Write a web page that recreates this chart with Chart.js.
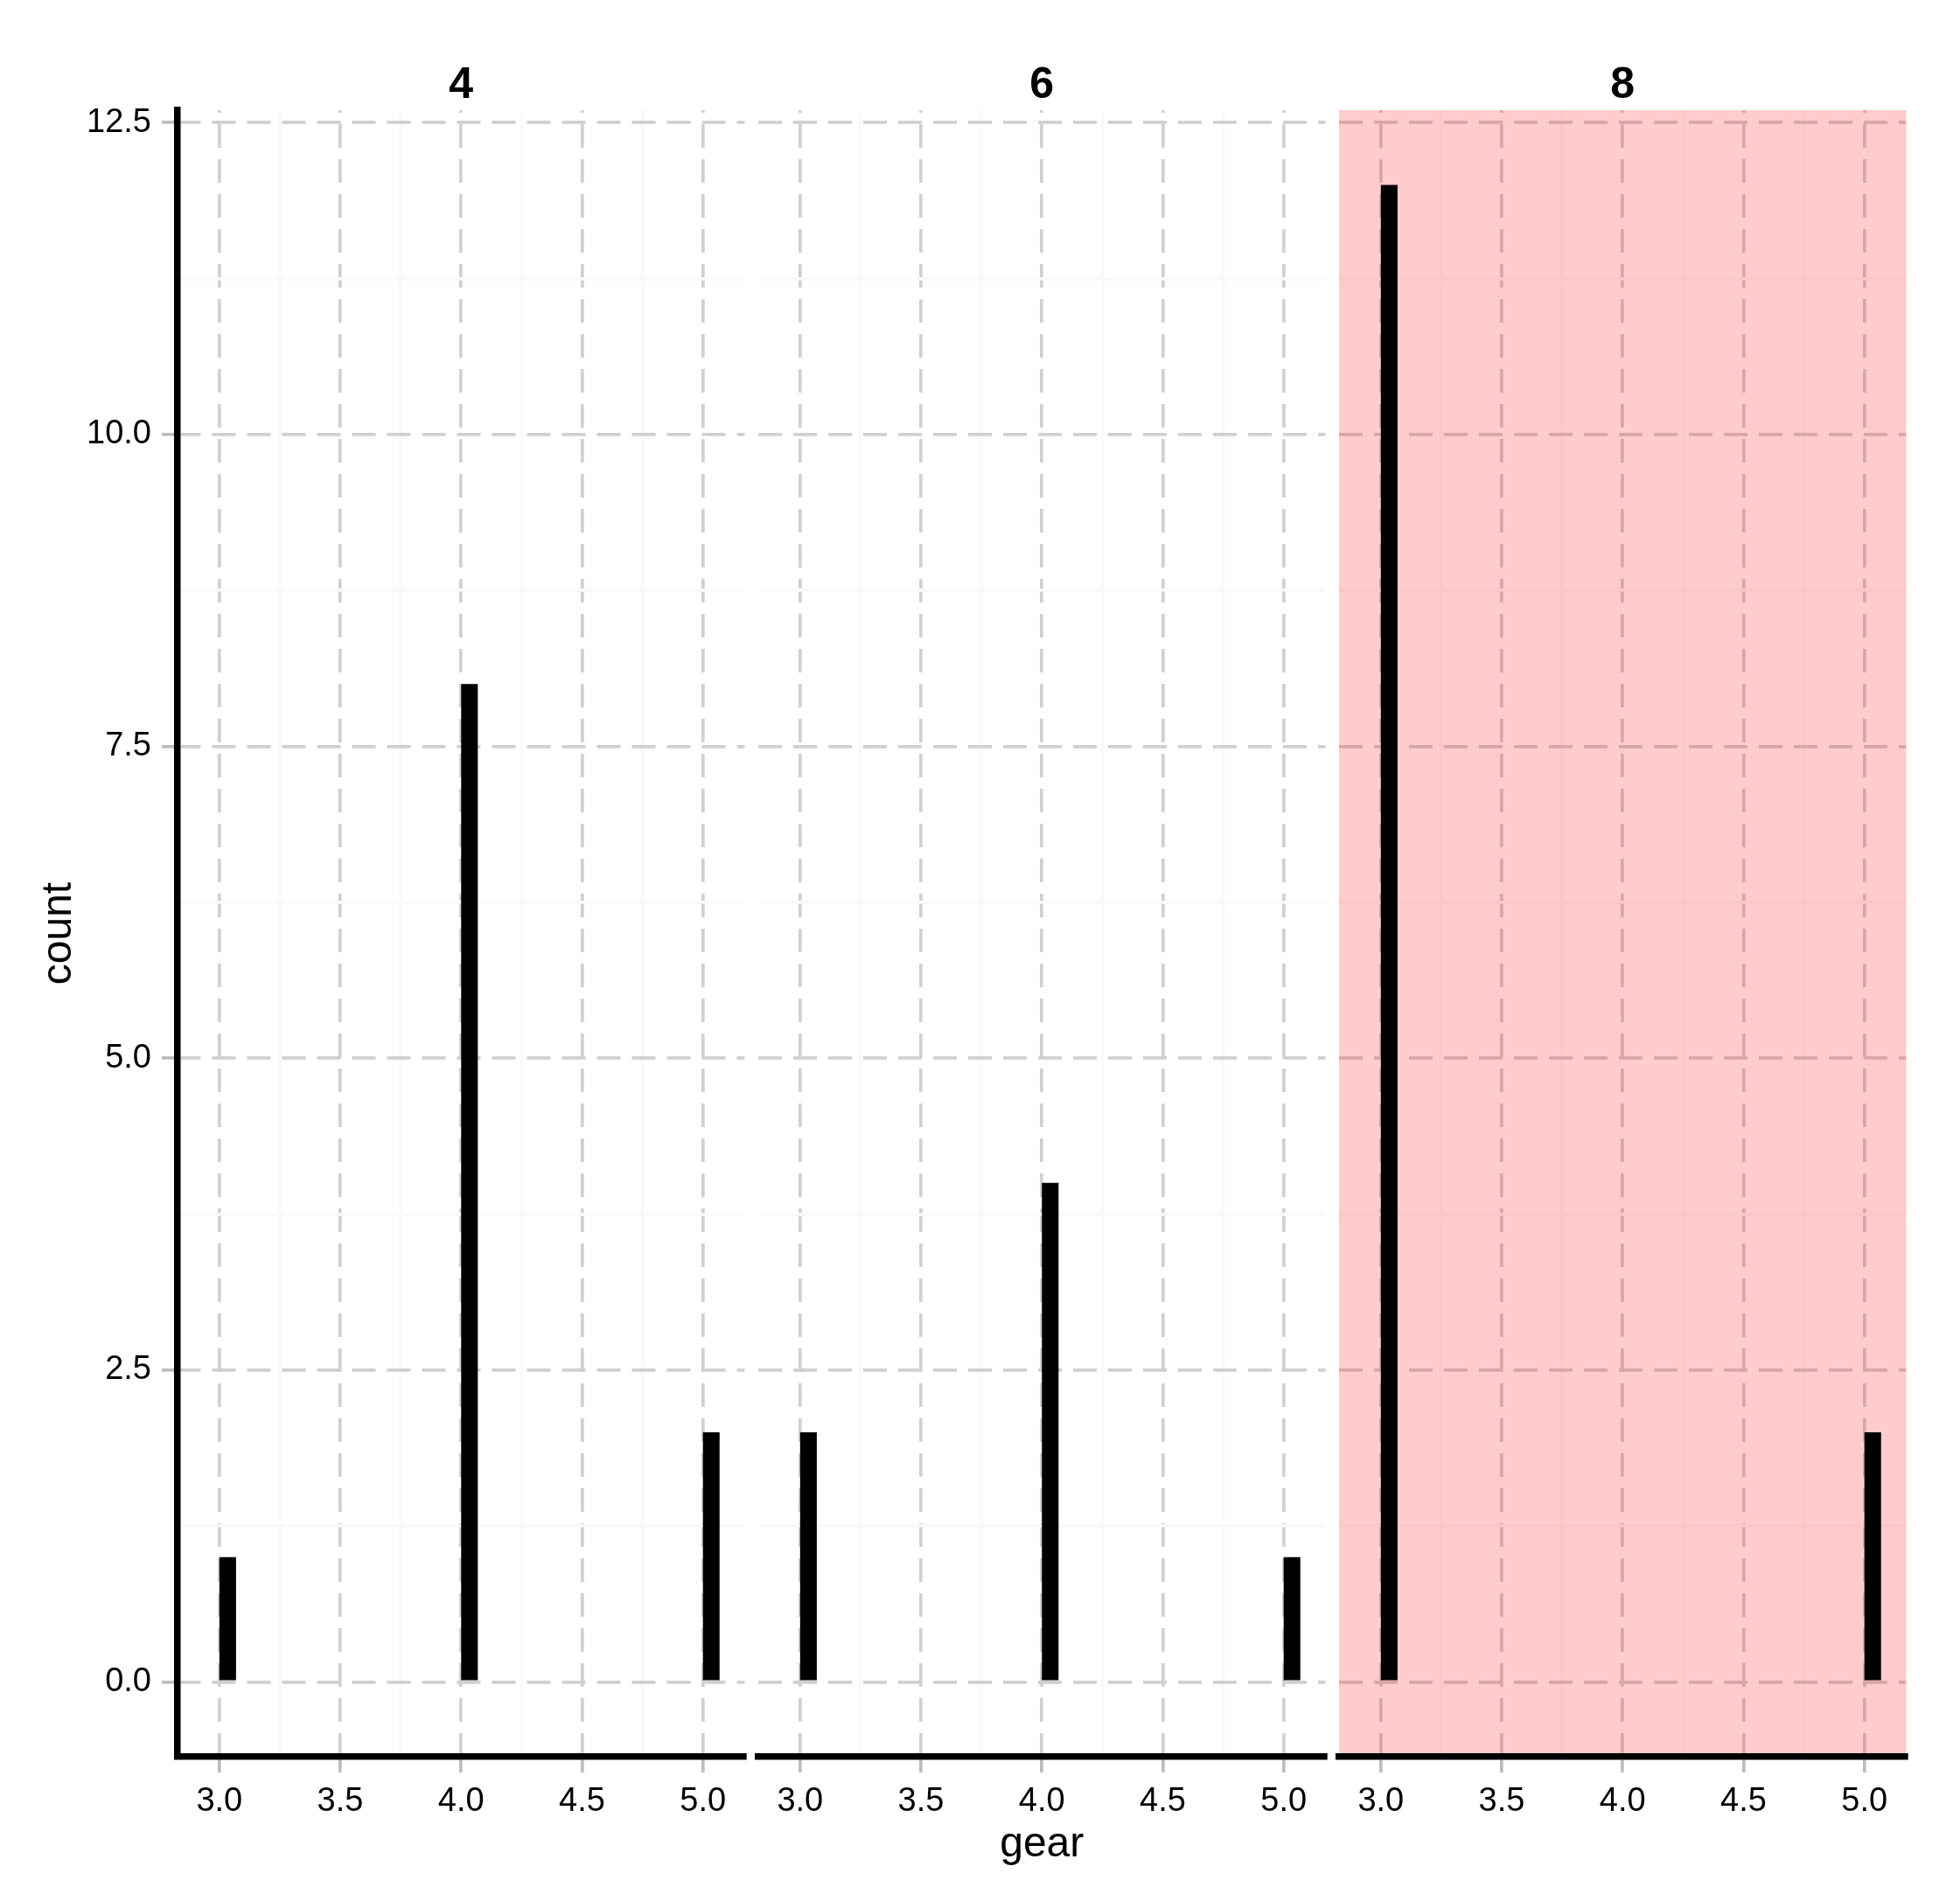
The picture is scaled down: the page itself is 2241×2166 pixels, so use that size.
<!DOCTYPE html>
<html>
<head>
<meta charset="utf-8">
<title>count by gear, faceted by cyl</title>
<script src="https://cdn.jsdelivr.net/npm/chart.js@4.4.1/dist/chart.umd.min.js"></script>
<style>
	html, body { margin: 0; padding: 0; background: #ffffff; }
	#wrap { position: relative; width: 2241px; height: 2166px; }
	#wrap canvas { position: absolute; left: 0; top: 0; }
</style>
</head>
<body>
<div id="wrap">
	<canvas id="cyl4" width="2241" height="2166"></canvas>
	<canvas id="cyl6" width="2241" height="2166"></canvas>
	<canvas id="cyl8" width="2241" height="2166"></canvas>
</div>
<script>
// data
const facets = ["4", "6", "8"];
const gears = [3, 4, 5];
const counts4 = [1, 8, 2];
const counts6 = [2, 4, 1];
const counts8 = [12, 0, 2];
const xTicks = [3.0, 3.5, 4.0, 4.5, 5.0];
const yTicks = [0.0, 2.5, 5.0, 7.5, 10.0, 12.5];
const binWidth = 0.069;

const xRange = [2.827, 5.173];
const yRange = [-0.6, 12.6];

// panel positions on the page
const W = 2241, H = 2166;
const plotTop = 126, plotBottom = 2009;
const panels = [
	{ left: 203, right: 851.5 },
	{ left: 867, right: 1515.5 },
	{ left: 1531, right: 2179.5 }
];

Chart.defaults.font.family = "'Liberation Sans', Arial, sans-serif";
Chart.defaults.color = "#000000";

const withMinor = (major) => {
	const out = [];
	major.forEach((v, i) => {
		out.push(v);
		if (i < major.length - 1) out.push((v + major[i + 1]) / 2);
	});
	return out;
};
const isMajor = (v, list) => list.some((t) => Math.abs(t - v) < 1e-9);

const majorGrid = "#d0d0d0";
const minorGrid = "#f9f9f9";
const tickGrey = "#bdbdbd";

// ggplot style facet background, painted over the grid but under the bars
const facetFill = {
	id: "facetFill",
	beforeDatasetsDraw(chart, args, opts) {
		if (!opts.color) return;
		const { ctx, chartArea: a } = chart;
		ctx.save();
		ctx.fillStyle = opts.color;
		ctx.fillRect(a.left, a.top, a.right - a.left, a.bottom - a.top);
		ctx.restore();
	}
};

function makePanel(id, idx, counts, fill) {
	const first = idx === 0;
	const middle = idx === 1;
	const yWidth = first ? panels[idx].left : 0;

	const config = {
		type: "bar",
		data: {
			datasets: [
				{
					data: gears.map((g, i) => ({ x: g + binWidth / 2, y: counts[i] })),
					backgroundColor: "#000000",
					borderWidth: 0,
					categoryPercentage: 1,
					// bar ruler = minor tick spacing (0.25)
					barPercentage: binWidth / 0.25
				}
			]
		},
		options: {
			responsive: false,
			devicePixelRatio: 1,
			animation: false,
			events: [],
			layout: {
				padding: { left: panels[idx].left - yWidth, right: W - panels[idx].right, top: 0, bottom: 0 }
			},
			plugins: {
				legend: { display: false },
				tooltip: { enabled: false },
				title: {
					display: true,
					text: facets[idx],
					fullSize: false,
					color: "#000000",
					font: { size: 50, weight: "bold", lineHeight: 1 },
					padding: { top: 73, bottom: plotTop - 50 - 73 }
				},
				facetFill: { color: fill }
			},
			scales: {
				x: {
					type: "linear",
					min: xRange[0],
					max: xRange[1],
					offset: false,
					afterBuildTicks: (scale) => {
						scale.ticks = withMinor(xTicks).map((v) => ({ value: v }));
					},
					afterFit: (scale) => {
						scale.height = H - plotBottom;
					},
					ticks: {
						autoSkip: false,
						maxRotation: 0,
						padding: 11,
						color: "#000000",
						font: { size: 38 },
						callback: (v) => (isMajor(v, xTicks) ? v.toFixed(1) : "")
					},
					grid: {
						offset: false,
						lineWidth: 3.7,
						color: (ctx) => (ctx.tick && isMajor(ctx.tick.value, xTicks) ? majorGrid : minorGrid),
						tickLength: 18,
						tickWidth: 3.7,
						tickColor: (ctx) => (ctx.tick && isMajor(ctx.tick.value, xTicks) ? tickGrey : "rgba(0,0,0,0)")
					},
					border: {
						display: true,
						color: "#000000",
						width: 7.5,
						z: 1,
						dash: (ctx) => (ctx.tick && isMajor(ctx.tick.value, xTicks) ? [27, 13] : []),
						dashOffset: 24
					},
					title: {
						display: middle,
						text: "gear",
						color: "#000000",
						font: { size: 48 },
						padding: { top: 0, bottom: 27 }
					}
				},
				y: {
					type: "linear",
					min: yRange[0],
					max: yRange[1],
					afterBuildTicks: (scale) => {
						scale.ticks = withMinor(yTicks).map((v) => ({ value: v }));
					},
					afterFit: (scale) => {
						scale.width = yWidth;
					},
					ticks: {
						display: first,
						autoSkip: false,
						padding: 12,
						color: "#000000",
						font: { size: 38 },
						callback: (v) => (isMajor(v, yTicks) ? v.toFixed(1) : "")
					},
					grid: {
						lineWidth: 3.7,
						color: (ctx) => (ctx.tick && isMajor(ctx.tick.value, yTicks) ? majorGrid : minorGrid),
						drawTicks: first,
						tickLength: 18,
						tickWidth: 3.7,
						tickColor: (ctx) => (ctx.tick && isMajor(ctx.tick.value, yTicks) ? tickGrey : "rgba(0,0,0,0)")
					},
					border: {
						display: first,
						color: "#000000",
						width: 7.5,
						dash: (ctx) => (ctx.tick && isMajor(ctx.tick.value, yTicks) ? [27, 13] : []),
						dashOffset: first ? 4 : 0
					},
					title: {
						display: first,
						text: "count",
						color: "#000000",
						font: { size: 48 },
						padding: { top: 39, bottom: 0 }
					}
				}
			}
		},
		plugins: [facetFill]
	};

	return new Chart(document.getElementById(id), config);
}

makePanel("cyl4", 0, counts4, null);
makePanel("cyl6", 1, counts6, null);
makePanel("cyl8", 2, counts8, "rgba(255, 0, 0, 0.2)");
</script>
</body>
</html>
